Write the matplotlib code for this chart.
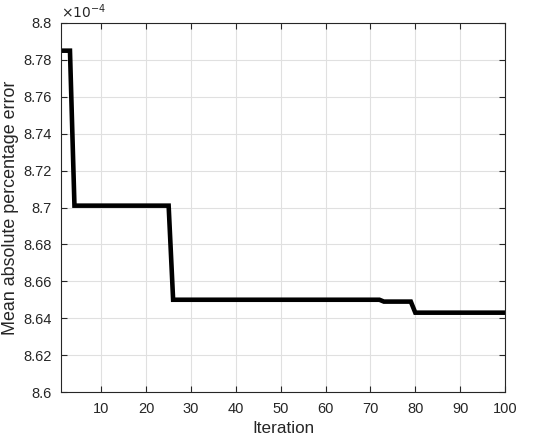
import matplotlib
matplotlib.use("Agg")
import matplotlib.pyplot as plt
from matplotlib.ticker import FuncFormatter

plt.rcParams['font.family'] = ['Liberation Sans', 'DejaVu Sans']

# Step vertices of the convergence curve (iteration, MAPE)
iterations = [1, 3, 4, 25, 26, 72, 73, 79, 80, 100]
mape = [8.785e-4, 8.785e-4, 8.701e-4, 8.701e-4, 8.650e-4,
        8.650e-4, 8.649e-4, 8.649e-4, 8.643e-4, 8.643e-4]

x_ticks = [10, 20, 30, 40, 50, 60, 70, 80, 90, 100]
y_ticks = [8.60e-4, 8.62e-4, 8.64e-4, 8.66e-4, 8.68e-4, 8.70e-4,
           8.72e-4, 8.74e-4, 8.76e-4, 8.78e-4, 8.80e-4]

fig = plt.figure(figsize=(5.5, 4.43), dpi=100)
ax = fig.add_axes([61/550, 51/443, 444/550, 369/443])

axc = '#262626'
ax.plot(iterations, mape, color='black', linewidth=3.3, solid_joinstyle='miter')

ax.set_xlim(1, 100)
ax.set_ylim(8.6e-4, 8.8e-4)
ax.set_xticks(x_ticks)
ax.set_yticks(y_ticks)
ax.yaxis.set_major_formatter(FuncFormatter(lambda v, p: f"{v/1e-4:.2f}".rstrip('0').rstrip('.')))

ax.grid(True, color='#e0e0e0', linewidth=0.8)
ax.set_axisbelow(True)
for s in ax.spines.values():
    s.set_color(axc)
    s.set_linewidth(0.8)
ax.tick_params(direction='in', top=True, right=True, length=4, width=0.8,
               color=axc, labelcolor=axc, labelsize=10.5, pad=7)

ax.set_xlabel('Iteration', fontsize=12.3, color=axc, labelpad=4)
ax.set_ylabel('Mean absolute percentage error', fontsize=12.9, color=axc, labelpad=3)
ax.text(0.0, 1.005, r'$\times 10^{-4}$', transform=ax.transAxes, fontsize=10,
        color=axc, ha='left', va='bottom', family='DejaVu Sans')

fig.savefig('out.png', dpi=100)
